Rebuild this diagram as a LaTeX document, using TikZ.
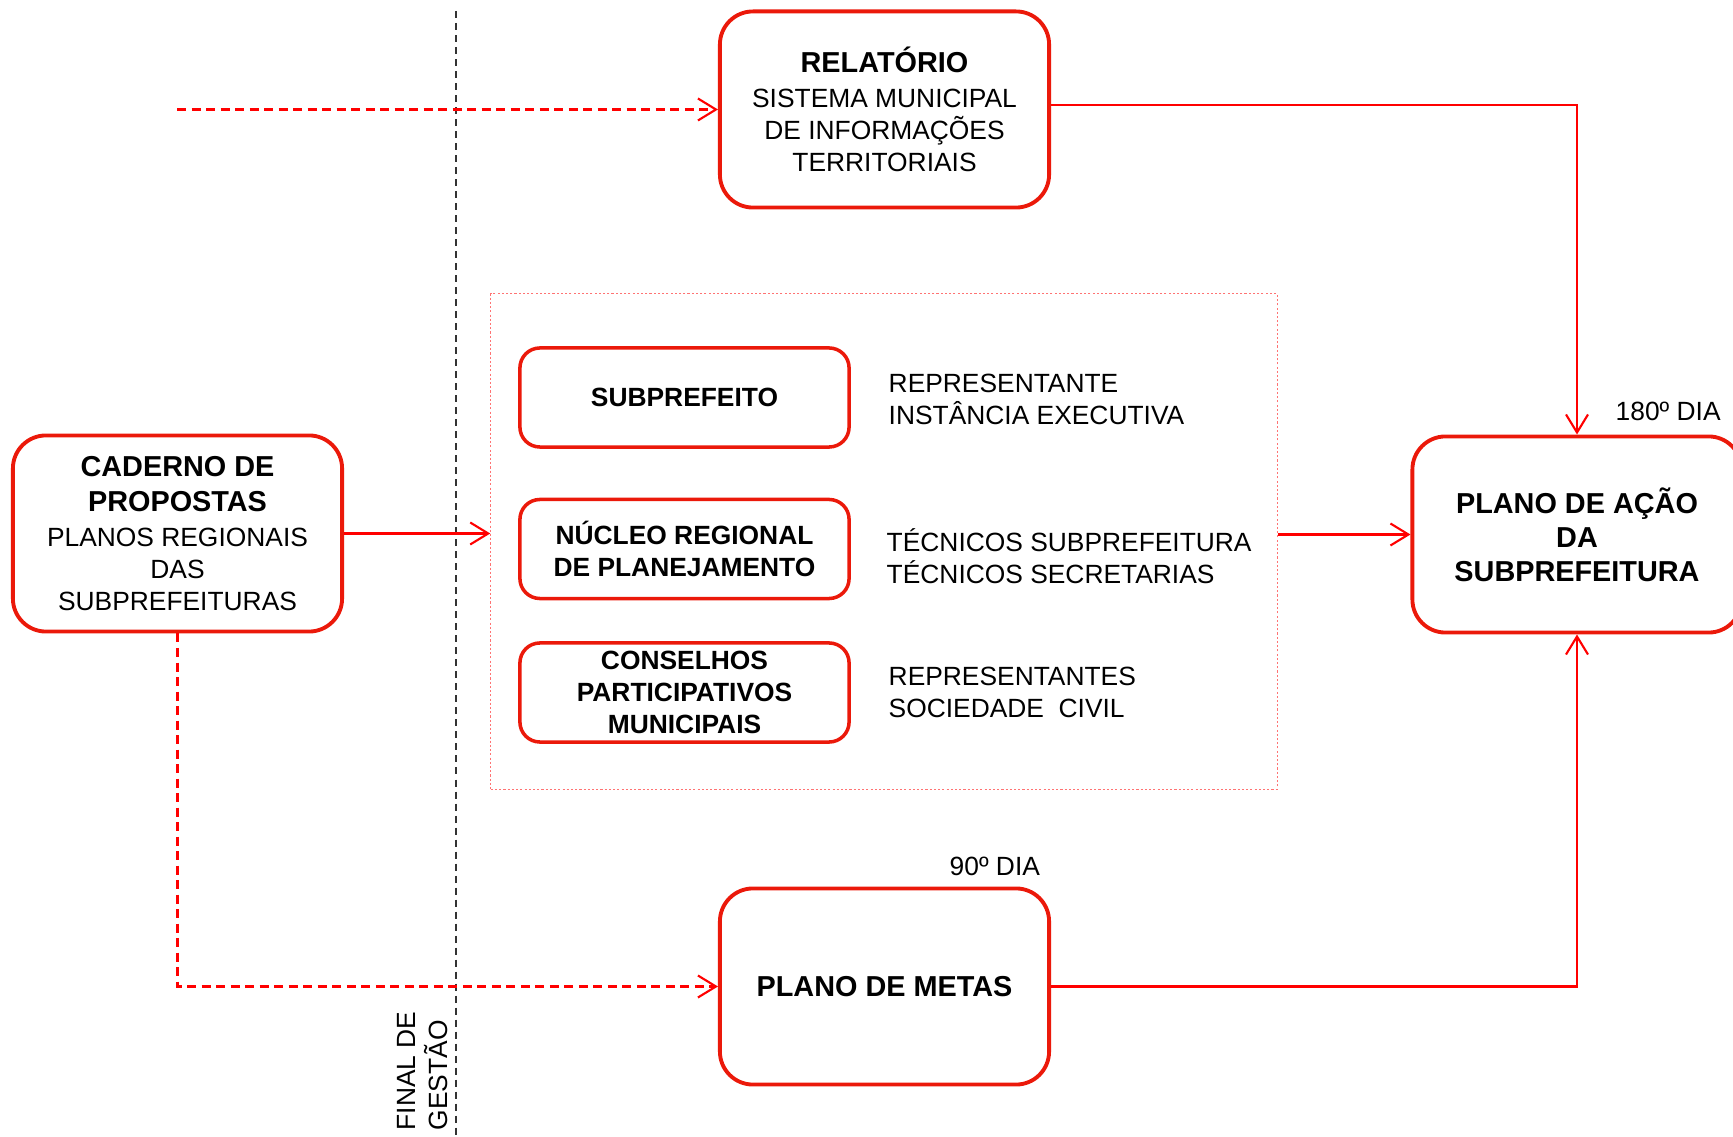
\documentclass[tikz,border=0pt]{standalone}
\usepackage{fontspec}
\setmainfont{Liberation Sans}
\usepackage{tikz}
\usetikzlibrary{arrows.meta,positioning}
\definecolor{bred}{rgb}{0.92, 0.1, 0.04}
\tikzset{
    >={Straight Barb[length=1.8mm,width=2.2mm]},
    bigbox/.style={
        rectangle,
        rounded corners=0.33cm,
        draw=bred, line width=1.1pt,
        minimum width=3.29cm,
        minimum height=1.96cm,
        inner sep=0pt,
        align=center,
        font=\fontsize{7.5pt}{9.1pt}\selectfont
    },
    boldbox/.style={
        bigbox,
        font=\bfseries\fontsize{8.2pt}{9.7pt}\selectfont
    },
    smallbox/.style={
        rectangle,
        rounded corners=0.2cm,
        draw=bred, line width=1pt,
        minimum width=3.29cm,
        minimum height=0.99cm,
        inner sep=0pt,
        align=center,
        font=\bfseries\fontsize{7.5pt}{9pt}\selectfont
    },
    grpbox/.style={
        rectangle,
        draw=red!55, line width=0.3pt,
        dash pattern=on 0.6pt off 0.6pt,
        minimum width=7.86cm,
        minimum height=4.95cm,
        inner sep=0pt
    },
    note/.style={anchor=west, align=left, inner sep=0pt,
        font=\fontsize{7.5pt}{9.1pt}\selectfont},
    flow/.style={draw=red, line width=0.6pt, ->},
    dflow/.style={flow, dash pattern=on 0.09cm off 0.055cm},
    gline/.style={draw=black!80, line width=0.55pt, dash pattern=on 0.07cm off 0.05cm},
}
\newcommand{\bighead}[1]{{\bfseries\fontsize{8.2pt}{9.8pt}\selectfont #1}}

\begin{document}
\begin{tikzpicture}[x=0.01cm, y=-0.01cm]
        \useasboundingbox (0,0) rectangle (1733,1137);

        \node [bigbox] (rel) at (884.5,109.5) {\bighead{RELATÓRIO}\\[0.9pt]SISTEMA MUNICIPAL\\DE INFORMAÇÕES\\TERRITORIAIS};
        \node [bigbox] (cad) at (177.5,533.5) {\bighead{CADERNO DE}\\[0.9pt]\bighead{PROPOSTAS}\\[0.9pt]PLANOS REGIONAIS\\DAS\\SUBPREFEITURAS};
        \node [boldbox] (metas) at (884.5,986.5) {PLANO DE METAS};
        \node [boldbox] (acao) at (1577,534.5) {PLANO DE AÇÃO\\DA\\SUBPREFEITURA};

        \node [grpbox] (grp) at (884,541.5) {};
        \node [smallbox] (sub) at (684.5,397.5) {SUBPREFEITO};
        \node [smallbox] (nuc) at (684.5,549) {NÚCLEO REGIONAL\\DE PLANEJAMENTO};
        \node [smallbox] (cons) at (684.5,692.5) {CONSELHOS\\PARTICIPATIVOS\\MUNICIPAIS};

        \node [note] (rep) at (888,399) {REPRESENTANTE\\INSTÂNCIA EXECUTIVA};
        \node [note] (tec) at (886,556) {TÉCNICOS SUBPREFEITURA\\TÉCNICOS SECRETARIAS};
        \node [note] (soc) at (888,692.5) {REPRESENTANTES\\SOCIEDADE\ \ CIVIL};

        \node [note, anchor=base west] (d180) at (1615,421) {180º DIA};
        \node [note, anchor=base west] (d90) at (949,876) {90º DIA};
        \node [note, rotate=90, anchor=south west] (fim) at (448,1131) {FINAL DE\\GESTÃO};

        \coordinate (gtop) at (456,11);
        \coordinate (gbot) at (456,1137);
        \coordinate (start) at (177,109.5);

        \draw [gline] (gtop) -- (gbot);
        \draw [dflow] (start) -- (rel.west);
        \draw [dflow] (cad.south) |- (metas.west);
        \draw [flow] (cad.east) -- (cad.east -| grp.west);
        \draw [flow] (grp.east |- acao.west) -- (acao.west);
        \draw [flow] ([yshift=0.045cm]rel.east) -| (acao.north);
        \draw [flow] (metas.east) -| (acao.south);
      \end{tikzpicture}
\end{document}
